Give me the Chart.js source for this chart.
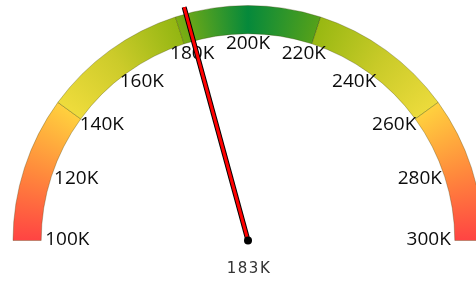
<!DOCTYPE html>
<html>
<head>
<meta charset="utf-8">
<script src="https://cdn.jsdelivr.net/npm/chart.js@4.4.1/dist/chart.umd.min.js"></script>
<style>
html, body { margin: 0; padding: 0; overflow: hidden; background: #fff; }
#wrap { position: relative; width: 496px; height: 282px; }
</style>
</head>
<body>
<div id="wrap"><canvas id="gauge"></canvas></div>
<script>
// gauge range and bands
var minValue = 100000;
var maxValue = 300000;
var bandEdges = [100000, 140000, 180000, 220000, 260000, 300000];
var tickValues = [100000, 120000, 140000, 160000, 180000, 200000, 220000, 240000, 260000, 280000, 300000];
var tickLabels = ['100K', '120K', '140K', '160K', '180K', '200K', '220K', '240K', '260K', '280K', '300K'];
var needleValue = 183000;
var needleLabel = '183K';

var bandSizes = [];
for (var i = 1; i < bandEdges.length; i++) { bandSizes.push(bandEdges[i] - bandEdges[i - 1]); }

// colour stops along the half turn (0 = left end, 0.5 = right end)
var fillStops = [
    [0.000, '#ff4343'], [0.050, '#ff8a3c'], [0.0999, '#ffd03e'],
    [0.1001, '#efdc3c'], [0.150, '#cccb2a'], [0.1999, '#93b612'],
    [0.2001, '#7cad12'], [0.250, '#05893b'], [0.2999, '#55a11a'],
    [0.3001, '#98b812'], [0.350, '#c8ca28'], [0.3999, '#ecdb3c'],
    [0.4001, '#ffd03e'], [0.450, '#ff8a3c'], [0.500, '#ff4343']
];

function bandFill(context){
    var chart = context.chart, area = chart.chartArea;
    if(!area){ return '#ccc'; }
    var cx = (area.left + area.right) / 2, cy = area.bottom;
    var g = chart.ctx.createConicGradient(Math.PI, cx, cy);
    fillStops.forEach(function(s){ g.addColorStop(s[0], s[1]); });
    return g;
}

var gaugeDecor = {
    id: 'gaugeDecor',
    afterDatasetsDraw: function(chart){
        var arc = chart.getDatasetMeta(0).data[0];
        if(!arc){ return; }
        var c = chart.ctx, cx = arc.x, cy = arc.y, R = arc.outerRadius;
        var r = arc.innerRadius - 4;
        c.save();
        // tick labels just inside the band
        c.font = '19px "Open Sans", sans-serif';
        c.fillStyle = '#0c0c0c';
        c.textAlign = 'center';
        c.textBaseline = 'middle';
        var h = 14;
        tickValues.forEach(function(v, idx){
            var t = (v - minValue) / (maxValue - minValue) * Math.PI;
            var w = c.measureText(tickLabels[idx]).width;
            var x = cx - r * Math.cos(t) + (w / 2) * Math.cos(t);
            var y = cy - r * Math.sin(t) + (h / 2) * Math.sin(t);
            c.fillText(tickLabels[idx], x, y - 1);
        });
        // needle
        var a = Math.PI + (needleValue - minValue) / (maxValue - minValue) * Math.PI;
        var len = R + 7;
        var tx = cx + len * Math.cos(a), ty = cy + len * Math.sin(a);
        c.lineCap = 'butt';
        c.strokeStyle = '#000';
        c.lineWidth = 5;
        c.beginPath(); c.moveTo(cx, cy); c.lineTo(tx, ty); c.stroke();
        c.strokeStyle = '#ff0000';
        c.lineWidth = 3;
        c.beginPath(); c.moveTo(cx, cy); c.lineTo(tx, ty); c.stroke();
        c.fillStyle = '#000';
        c.beginPath(); c.arc(cx, cy, 4, 0, Math.PI * 2); c.fill();
        // value label
        c.font = '15px "DejaVu Sans", sans-serif';
        c.fillStyle = '#333';
        c.letterSpacing = '1.5px';
        c.fillText(needleLabel, cx + 1, cy + 29);
        c.restore();
    }
};

new Chart(document.getElementById('gauge'), {
    type: 'doughnut',
    data: {
        labels: tickLabels.slice(0, bandSizes.length),
        datasets: [{
            data: bandSizes,
            backgroundColor: bandFill,
            borderColor: 'rgba(60,60,0,0.3)',
            borderWidth: 1
        }]
    },
    options: {
        responsive: true,
        maintainAspectRatio: false,
        animation: false,
        events: [],
        rotation: -90,
        circumference: 180,
        cutout: '88%',
        layout: { padding: { left: 12, right: 12, top: 5, bottom: 41 } },
        plugins: { legend: { display: false }, tooltip: { enabled: false } }
    },
    plugins: [gaugeDecor]
});
</script>
</body>
</html>
